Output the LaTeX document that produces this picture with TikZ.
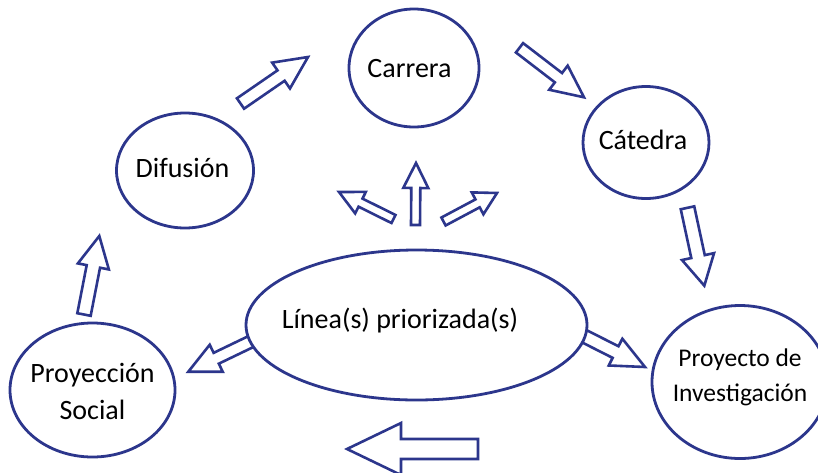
\documentclass[tikz,border=0pt]{standalone}
\usepackage{fontspec}
\setmainfont{Carlito}
\usetikzlibrary{calc,shapes.geometric}
\definecolor{navy}{RGB}{44,54,140}
\tikzset{
  ell/.style={ellipse, draw=navy, line width=2.8pt, fill=white, inner sep=0pt},
  lbl/.style={inner sep=0pt, font=\fontsize{28}{37}\selectfont, align=center},
  lblsmall/.style={inner sep=0pt, font=\fontsize{25.5}{35}\selectfont, align=center},
  barrow/.style={draw=navy, line width=2.6pt, fill=white, line join=miter}
}
% #1 name, #2 tail, #3 tip, #4 shaft half width, #5 head half width, #6 head length
\newcommand{\blockarrow}[6]{%
  \coordinate (#1-t) at #2;
  \coordinate (#1-p) at #3;
  \coordinate (#1-h) at ($(#1-p)!#6!(#1-t)$);
  \draw[barrow] ($(#1-t)!#4!90:(#1-p)$) -- ($(#1-h)!#4!90:(#1-p)$)
    -- ($(#1-h)!#5!90:(#1-p)$) -- (#1-p) -- ($(#1-h)!#5!-90:(#1-p)$)
    -- ($(#1-h)!#4!-90:(#1-p)$) -- ($(#1-t)!#4!-90:(#1-p)$) -- cycle;
}
\begin{document}
\begin{tikzpicture}[x=1pt,y=-1pt]
\clip (0,0) rectangle (818,472);
\fill[white] (0,0) rectangle (818,472);
% block arrows
\blockarrow{a1}{(240.5,103.5)}{(308,57)}{6.3pt}{15.7pt}{32.7pt}
\blockarrow{a2}{(519.5,47.8)}{(584,97.3)}{5.9pt}{15.2pt}{32.2pt}
\blockarrow{a3}{(687.5,207.8)}{(704.3,285.7)}{6.9pt}{16.4pt}{29.8pt}
\blockarrow{a4}{(571,329.5)}{(645,367)}{6.5pt}{15pt}{33pt}
\blockarrow{a5}{(261,336.7)}{(188.3,371.7)}{6pt}{15pt}{31pt}
\blockarrow{a6}{(84,314.5)}{(99.3,236)}{6.8pt}{15.8pt}{31pt}
\blockarrow{a7}{(393.5,219)}{(339,192)}{4.5pt}{12pt}{24pt}
\blockarrow{a8}{(415.5,225)}{(416,163)}{4.5pt}{12.5pt}{25pt}
\blockarrow{a9}{(443.5,221.5)}{(497,193)}{4.5pt}{12.4pt}{22pt}
\blockarrow{a10}{(478,449)}{(347,449)}{10pt}{26pt}{54pt}
% ellipses
\node[ell, minimum width=130pt, minimum height=118pt] (carrera) at (414,68) {};
\node[ell, minimum width=126pt, minimum height=112pt] (catedra) at (646,142.5) {};
\node[ell, minimum width=137pt, minimum height=115pt] (difusion) at (185,170.5) {};
\node[ell, minimum width=341pt, minimum height=150pt] (linea) at (416.5,325) {};
\node[ell, minimum width=176pt, minimum height=153pt] (proyecto) at (740,382) {};
\node[ell, minimum width=165pt, minimum height=134pt] (proyeccion) at (92.5,390) {};
% labels
\node[lbl, anchor=base] (tcarrera) at (409.5,77) {Carrera};
\node[lbl, anchor=base] (tcatedra) at (643,149.3) {Cátedra};
\node[lbl, anchor=base] (tdifusion) at (182.5,177) {Difusión};
\node[lbl, anchor=base] (tlinea) at (400,328) {Línea(s) priorizada(s)};
\node[lbl] (tproyeccion) at (92.5,391) {Proyección\\Social};
\node[lblsmall] (tproyecto) at (740,377.5) {Proyecto de\\Investigación};
\end{tikzpicture}
\end{document}
